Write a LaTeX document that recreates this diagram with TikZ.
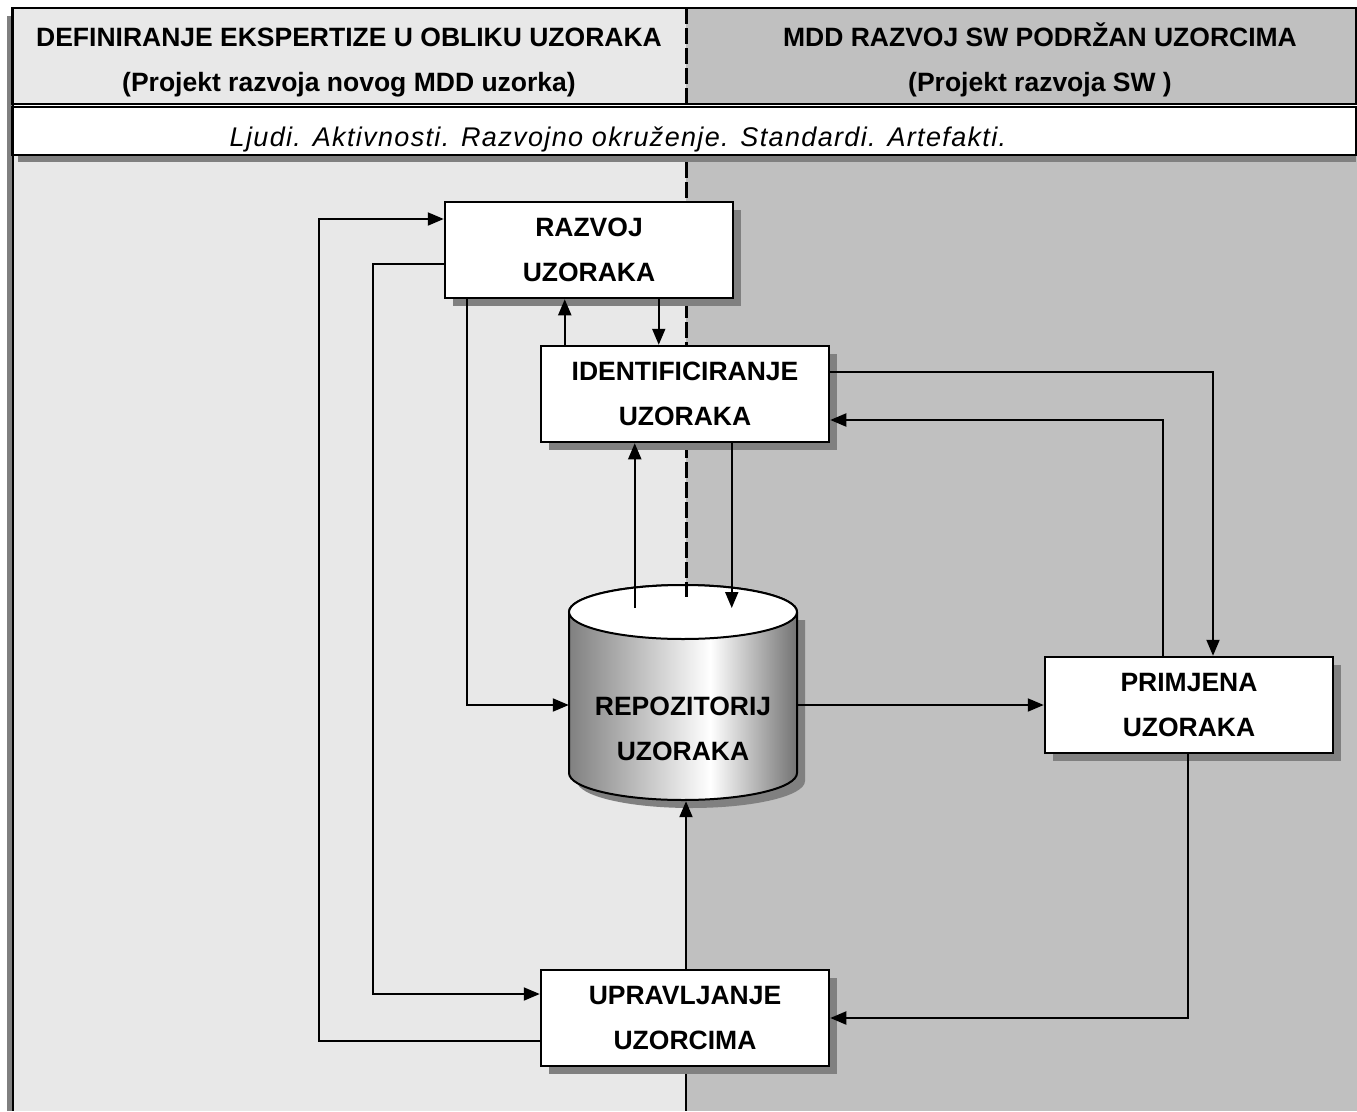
\documentclass[tikz,border=0pt]{standalone}
\usepackage{fontspec}
\setmainfont{Liberation Sans}
\usetikzlibrary{arrows.meta,shadows}
\definecolor{lgray}{HTML}{E8E8E8}
\definecolor{dgray}{HTML}{C0C0C0}
\definecolor{sgray}{HTML}{808080}
\pgfdeclarehorizontalshading{cylshade}{100bp}{color(0bp)=(sgray); color(25bp)=(sgray); color(56bp)=(white); color(75bp)=(black!55); color(100bp)=(black!55)}
\begin{document}
\begin{tikzpicture}[x=1pt,y=-1pt,
  box/.style={draw=black, line width=2.5pt, fill=white, minimum width=288pt, minimum height=96pt, inner sep=0pt, align=center,
    font=\fontsize{26.5}{45}\selectfont\bfseries,
    drop shadow={shadow xshift=8pt, shadow yshift=-8pt, fill=sgray, opacity=1}},
  arr/.style={line width=2pt, -{Triangle[length=16pt,width=13pt]}},
  ln/.style={line width=2pt},
  hdr/.style={font=\fontsize{26.5}{32}\selectfont\bfseries, anchor=base, inner sep=0pt},
  divider/.style={line width=3pt, dash pattern=on 16pt off 4pt},
]
\useasboundingbox (0,0) rectangle (1357,1111);
\fill[white] (0,0) rectangle (1357,1111);
% body backgrounds
\fill[lgray] (12,155) rectangle (686,1111);
\fill[dgray] (686,155) rectangle (1357,1111);
\fill[sgray] (7,16) rectangle (12,1111);
% header
\fill[lgray] (12,8) rectangle (686,104);
\fill[dgray] (686,8) rectangle (1356,104);
\draw[ln] (12,8) rectangle (1356,104);
\draw[divider] (686,8) -- (686,104);
\node[hdr] (h1) at (349,46.5) {DEFINIRANJE EKSPERTIZE U OBLIKU UZORAKA};
\node[hdr] (h2) at (349,91.5) {(Projekt razvoja novog MDD uzorka)};
\node[hdr] (h3) at (1040,46.5) {MDD RAZVOJ SW PODRŽAN UZORCIMA};
\node[hdr] (h4) at (1040,91.5) {(Projekt razvoja SW )};
% Ljudi row
\fill[sgray] (18,155) rectangle (1356,162);
\draw[ln, fill=white] (12,107) rectangle (1356,155);
\node[font=\fontsize{27}{30}\selectfont\itshape\addfontfeature{LetterSpace=5}, inner sep=0pt, anchor=base] (ljudi) at (618,146) {Ljudi. Aktivnosti. Razvojno okruženje. Standardi. Artefakti.};
% left frame line
\draw[ln] (12.5,8) -- (12.5,1111);
% cylinder
\begin{scope}[xshift=8pt, yshift=-8pt]
\fill[sgray] (569,612) -- (569,773) arc[start angle=180, end angle=360, x radius=114pt, y radius=27pt] -- (797,612) -- cycle;
\end{scope}
\shade[shading=cylshade, draw=black, line width=2pt] (569,612) -- (569,773) arc[start angle=180, end angle=360, x radius=114pt, y radius=27pt] -- (797,612) arc[start angle=0, end angle=180, x radius=114pt, y radius=27pt] -- cycle;
\draw[ln, fill=white] (683,612) ellipse[x radius=114pt, y radius=27pt];
\node[minimum width=228pt, minimum height=216pt, inner sep=0pt] (repo) at (683,693) {};
\node[font=\fontsize{26.5}{45}\selectfont\bfseries, align=center, inner sep=0pt] (repotext) at (683,729) {REPOZITORIJ\\UZORAKA};
\coordinate (cyltop) at (683,608);
% body divider
\draw[divider] (686,162) -- (686,597);
\draw[ln] (686,1066) -- (686,1111);
% boxes
\node[box] (razvoj) at (589,250) {RAZVOJ\\UZORAKA};
\node[box] (ident) at (685,394) {IDENTIFICIRANJE\\UZORAKA};
\node[box] (primjena) at (1189,705) {PRIMJENA\\UZORAKA};
\node[box] (uprav) at (685,1018) {UPRAVLJANJE\\UZORCIMA};
% connectors
\draw[arr] ([yshift=-23pt]uprav.west) -- ++(-221,0) |- ([yshift=31pt]razvoj.west);
\draw[arr] ([yshift=-14pt]razvoj.west) -- ++(-71,0) |- ([yshift=24pt]uprav.west);
\draw[arr] ([xshift=23pt]razvoj.south west) |- ([yshift=-12pt]repo.west);
\coordinate (a4) at ([xshift=25pt]ident.north west);
\draw[arr] (a4) -- (a4 |- razvoj.south);
\coordinate (a5) at ([xshift=215pt]razvoj.south west);
\draw[arr] (a5) -- (a5 |- ident.north);
\coordinate (a6) at ([xshift=95pt]ident.south west);
\draw[arr] (a6 |- cyltop) -- (a6);
\coordinate (a7) at ([xshift=192pt]ident.south west);
\draw[arr] (a7) -- (a7 |- cyltop);
\draw[arr] ([yshift=22pt]ident.east) -| ([xshift=24pt]primjena.north);
\draw[arr] ([xshift=-26pt]primjena.north) |- ([yshift=-26pt]ident.east);
\draw[arr] ([yshift=-12pt]repo.east) -- (primjena.west);
\draw[arr] ([xshift=-1pt]primjena.south) |- (uprav.east);
\coordinate (a12) at ([xshift=1pt]uprav.north);
\draw[arr] (a12) -- (a12 |- repo.south);
\end{tikzpicture}
\end{document}
